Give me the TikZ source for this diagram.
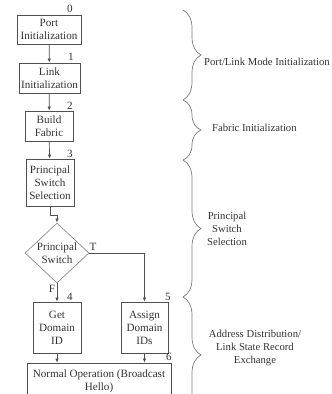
\documentclass[tikz,border=0pt]{standalone}
\usepackage{fontspec}
\setmainfont{Liberation Serif}
\usetikzlibrary{arrows.meta,positioning,shapes.geometric,decorations.pathreplacing}
\definecolor{boxline}{HTML}{505050}
\definecolor{diamline}{HTML}{8C8C8C}
\definecolor{braceline}{HTML}{7A7A7A}
\definecolor{txt}{HTML}{333333}

\begin{document}
\begin{tikzpicture}[x=0.03cm, y=-0.03cm,
    font=\fontsize{9.5}{11}\selectfont, text=txt,
    stepbox/.style={draw=boxline, line width=0.6pt, align=center, inner sep=1pt},
    arr/.style={draw=boxline, line width=0.6pt, -{Latex[length=3.5pt,width=3pt]}},
    num/.style={inner sep=0pt},
    phase/.style={inner sep=0pt, font=\fontsize{9.1}{11}\selectfont},
    grp/.style={draw=braceline, line width=0.6pt, decorate,
      decoration={brace, amplitude=0.54cm}}]
  \useasboundingbox (0,0) rectangle (331,394);

  % Flow boxes
  \node[stepbox, minimum width=1.92cm, minimum height=0.87cm] (portinit) at (49,29.5) {Port\\Initialization};
  \node[stepbox, minimum width=1.83cm, minimum height=0.9cm] (linkinit) at (49.5,78) {Link\\Initialization};
  \node[stepbox, minimum width=1.44cm, minimum height=0.9cm] (build) at (49,126) {Build\\Fabric};
  \node[stepbox, minimum width=1.44cm, minimum height=1.41cm] (psel) at (50,182.5) {Principal\\Switch\\Selection};
  \node[draw=diamline, line width=0.6pt, diamond, aspect=1.05, inner sep=0pt, align=center,
        minimum width=1.92cm, minimum height=1.8cm] (psw) at (57,253) {Principal\\Switch};
  \node[stepbox, minimum width=1.44cm, minimum height=1.53cm] (getid) at (57,327.5) {Get\\Domain\\ID};
  \node[stepbox, minimum width=1.41cm, minimum height=1.53cm] (assign) at (144.5,327.5) {Assign\\Domain\\IDs};
  \node[stepbox, minimum width=4.32cm, minimum height=1.08cm] (normal) at (99,381) {Normal Operation (Broadcast\\Hello)};

  % State numbers
  \foreach \n/\x/\y in {0/70/9, 1/71/57, 2/70/106, 3/70/154, 4/70/297, 5/168/297, 6/169/357}
    \node[num] (num\n) at (\x,\y) {\n};

  % Connectors
  \draw[arr] (portinit) -- (linkinit);
  \draw[arr] (linkinit) -- (build);
  \draw[arr] (build) -- (psel);
  \draw[arr] (psel.south) -- ++(0,9) -| (psw.north);
  \draw[arr] (psw.south) -- (getid.north);
  \draw[arr] (psw.east) -| (assign.north);
  \draw[arr] (getid.south) -- (getid.south |- normal.north);
  \draw[arr] (assign.south) -- (assign.south |- normal.north);
  \node[num] (tlbl) at (93,247) {T};
  \node[num] (flbl) at (52,289) {F};

  % Phase braces
  \draw[grp] (183,10) -- (183,100);
  \draw[grp] (183,100) -- (183,160);
  \draw[grp] (183,160) -- (183,297);
  \draw[grp] (183,297) -- (183,413);
  \node[phase, anchor=west] (phase1) at (204,62) {Port/Link Mode Initialization};
  \node[phase, anchor=west] (phase2) at (212,128) {Fabric Initialization};
  \node[phase, align=center] (phase3) at (227,229) {Principal\\Switch\\Selection};
  \node[phase, align=center] (phase4) at (255,348) {Address Distribution/\\Link State Record\\Exchange};
\end{tikzpicture}
\end{document}
